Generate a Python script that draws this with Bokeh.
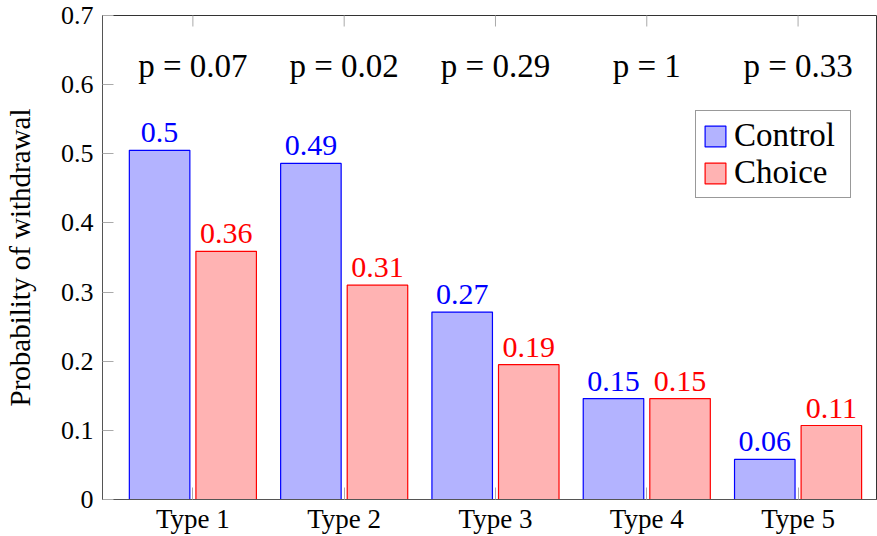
import numpy as np
from bokeh.plotting import figure
from bokeh.models import ColumnDataSource, FixedTicker, Legend, LegendItem, Range1d
from bokeh.transform import dodge
from bokeh.core.properties import value
from bokeh.embed import file_html
from bokeh.resources import INLINE

# ---- data ----
categories = ["Type 1", "Type 2", "Type 3", "Type 4", "Type 5"]
control = [0.505, 0.486, 0.271, 0.146, 0.058]
choice = [0.359, 0.310, 0.195, 0.146, 0.107]
control_labels = ["0.5", "0.49", "0.27", "0.15", "0.06"]
choice_labels = ["0.36", "0.31", "0.19", "0.15", "0.11"]
p_values = ["p = 0.07", "p = 0.02", "p = 0.29", "p = 1", "p = 0.33"]
y_ticks = [0, 0.1, 0.2, 0.3, 0.4, 0.5, 0.6, 0.7]
y_tick_labels = ["0", "0.1", "0.2", "0.3", "0.4", "0.5", "0.6", "0.7"]

# ---- styling ----
FONT_NAME = "Liberation Serif"
FONT = value(FONT_NAME)
BLUE = "#0000ff"
RED = "#ff0000"
BLUE_FILL = "#b3b3ff"
RED_FILL = "#ffb3b3"
OFFSET = 0.22
BAR_W = 0.40
P_LABEL_Y = 0.627
Y_MAX = 0.7

xs = list(np.arange(1, len(categories) + 1))
src = ColumnDataSource(dict(x=xs, control=control, choice=choice,
                            control_labels=control_labels, choice_labels=choice_labels,
                            p_values=p_values, top=[Y_MAX] * len(xs)))

p = figure(width=877, height=536, output_backend="svg", toolbar_location=None,
           x_range=Range1d(0.4026, 5.525), y_range=Range1d(0, Y_MAX),
           min_border_left=101, min_border_right=0, min_border_top=15, min_border_bottom=36)
p.outline_line_color = "#333333"
p.outline_line_width = 1
p.xgrid.visible = False
p.ygrid.visible = False

r1 = p.vbar(x=dodge("x", -OFFSET), top="control", width=BAR_W, source=src,
            fill_color=BLUE_FILL, line_color=BLUE, line_width=1.2)
r2 = p.vbar(x=dodge("x", OFFSET), top="choice", width=BAR_W, source=src,
            fill_color=RED_FILL, line_color=RED, line_width=1.2)

# inward tick marks on the top edge (half of a dash clipped by the frame)
p.scatter(x="x", y="top", source=src, marker="dash", angle=np.pi / 2, size=22,
          line_color="#aaaaaa", line_width=1)

p.text(x=dodge("x", -OFFSET), y="control", text="control_labels", source=src,
       text_align="center", text_baseline="bottom", y_offset=-8,
       text_font=FONT, text_font_size="30px", text_color=BLUE)
p.text(x=dodge("x", OFFSET), y="choice", text="choice_labels", source=src,
       text_align="center", text_baseline="bottom", y_offset=-8,
       text_font=FONT, text_font_size="30px", text_color=RED)
p.text(x="x", y=P_LABEL_Y, text="p_values", source=src,
       text_align="center", text_baseline="middle",
       text_font=FONT, text_font_size="33px", text_color="black")

# axes
xa = p.xaxis[0]
xa.ticker = FixedTicker(ticks=xs)
xa.major_label_overrides = {int(x): c for x, c in zip(xs, categories)}
xa.major_label_text_font = FONT_NAME
xa.major_label_text_font_size = "27px"
xa.major_label_text_color = "black"
xa.major_label_standoff = 4
xa.major_tick_in = 12
xa.major_tick_out = 0
xa.minor_tick_line_color = None
xa.major_tick_line_color = "#aaaaaa"
xa.axis_line_color = "#555555"

ya = p.yaxis[0]
ya.ticker = FixedTicker(ticks=y_ticks)
ya.major_label_overrides = {t: l for t, l in zip(y_ticks, y_tick_labels)}
ya.major_label_text_font = FONT_NAME
ya.major_label_text_font_size = "26px"
ya.major_label_text_color = "black"
ya.major_label_standoff = 9
ya.major_tick_in = 11
ya.major_tick_out = 0
ya.minor_tick_line_color = None
ya.major_tick_line_color = "#aaaaaa"
ya.axis_line_color = "#555555"
ya.axis_label = "Probability of withdrawal"
ya.axis_label_text_font = FONT_NAME
ya.axis_label_text_font_style = "normal"
ya.axis_label_text_font_size = "29px"
ya.axis_label_text_color = "black"
ya.axis_label_standoff = 22

legend = Legend(items=[LegendItem(label="Control", renderers=[r1]),
                       LegendItem(label="Choice", renderers=[r2])],
                location=(593, 301), padding=6, spacing=0,
                glyph_width=26, glyph_height=26, label_standoff=6,
                label_width=110, label_height=34,
                label_text_font=FONT_NAME, label_text_font_size="33px",
                label_text_color="black",
                border_line_color="#333333", border_line_width=1,
                background_fill_alpha=1.0)
p.add_layout(legend, "center")

open("out.html", "w").write(file_html(p, INLINE))
